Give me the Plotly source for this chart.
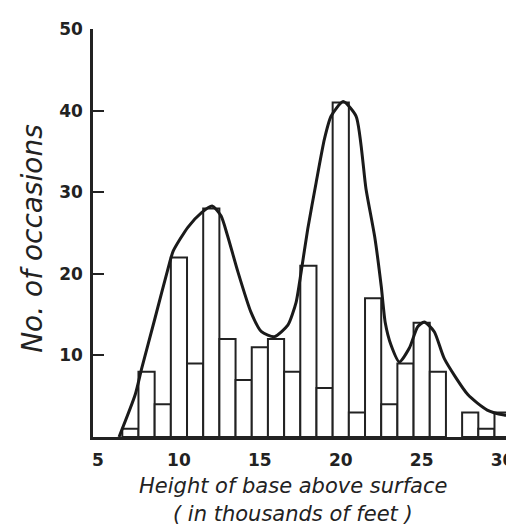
import plotly.graph_objects as go

# Histogram: height of cloud base (thousands of feet) vs number of occasions
heights = [7, 8, 9, 10, 11, 12, 13, 14, 15, 16, 17, 18, 19, 20, 21, 22, 23, 24, 25, 26, 27, 28, 29, 30]
occasions = [1, 8, 4, 22, 9, 28, 12, 7, 11, 12, 8, 21, 6, 41, 3, 17, 4, 9, 14, 8, None, 3, 1, 3]

# Smoothed freehand curve drawn over the histogram
curve_x = [6.3, 7.3, 7.7, 8.5, 9.4, 9.65, 10.55, 11.4, 12.05, 12.6, 13.0, 13.65, 14.45,
           15.1, 15.9, 16.73, 17.24, 17.55, 17.96, 18.48, 18.99, 19.4, 20.15, 20.95,
           21.56, 22.1, 22.5, 22.75, 23.1, 23.62, 24.24, 24.75, 25.16, 25.78, 26.4,
           27.85, 29.05, 30.1, 31.2]
curve_y = [0, 5.2, 8.4, 14.4, 21.2, 22.8, 25.7, 27.5, 28.3, 27.1, 24.7, 20.2, 15.3,
           12.9, 12.3, 13.7, 16.5, 20.2, 25.5, 31.2, 36.5, 39.3, 41.1, 39.3,
           30.4, 24.5, 18.5, 14.0, 11.3, 9.2, 10.9, 13.5, 14.1, 12.9, 9.6,
           5.2, 3.3, 2.7, 2.5]

x_ticks = [5, 10, 15, 20, 25, 30]
y_ticks = [10, 20, 30, 40, 50]

x_title_1 = "Height of base above surface"
x_title_2 = "( in thousands of feet )"
y_title = "No. of occasions"

ink = "#222"

fig = go.Figure()
fig.add_trace(go.Bar(
    x=heights, y=occasions, width=1,
    marker=dict(color="white", line=dict(color=ink, width=2)),
    hoverinfo="x+y",
))
fig.add_trace(go.Scatter(
    x=curve_x, y=curve_y, mode="lines",
    line=dict(color="#1a1a1a", width=3, shape="spline", smoothing=0.6),
))

fig.update_layout(
    width=514, height=525,
    margin=dict(l=85, r=0, t=21, b=96),
    paper_bgcolor="white", plot_bgcolor="white",
    showlegend=False,
    font=dict(family="DejaVu Sans", color=ink),
    xaxis=dict(
        range=[4.69, 31.2], tickvals=x_ticks, ticktext=[str(v) for v in x_ticks],
        showgrid=False, zeroline=False, showline=True, linecolor=ink, linewidth=2.5,
        ticks="", tickfont=dict(size=17, family="DejaVu Sans", weight="bold"),
        ticklabelstandoff=6, automargin=False,
    ),
    yaxis=dict(
        range=[0, 50], tickvals=y_ticks, ticktext=[str(v) for v in y_ticks],
        showgrid=False, zeroline=False, showline=True, linecolor=ink, linewidth=2.5,
        ticks="inside", ticklen=11, tickwidth=2, tickcolor=ink,
        tickfont=dict(size=17, family="DejaVu Sans", weight="bold"),
        ticklabelstandoff=4, automargin=False,
    ),
    annotations=[
        dict(text="<i>" + x_title_1 + "</i>", xref="paper", yref="paper",
             x=0.466, y=-0.12, xanchor="center", yanchor="middle", showarrow=False,
             font=dict(size=21, family="DejaVu Sans", color=ink)),
        dict(text="<i>" + x_title_2 + "</i>", xref="paper", yref="paper",
             x=0.466, y=-0.189, xanchor="center", yanchor="middle", showarrow=False,
             font=dict(size=21, family="DejaVu Sans", color=ink)),
        dict(text="<i>" + y_title + "</i>", xref="paper", yref="paper",
             x=-0.14, y=0.488, xanchor="center", yanchor="middle", showarrow=False,
             textangle=-90, font=dict(size=28, family="DejaVu Sans", color=ink)),
    ],
)

fig.write_html("out.html")
